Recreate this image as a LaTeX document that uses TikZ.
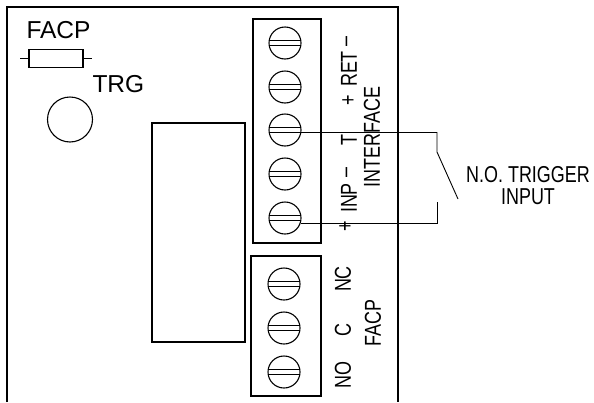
\documentclass[tikz,border=0pt]{standalone}
\usepackage{fontspec}
\setmainfont{Liberation Sans}
\newfontfamily\condf[FakeStretch=0.78]{Liberation Sans}
\usetikzlibrary{calc}
\begin{document}
\begin{tikzpicture}[x=1pt,y=-1pt,line width=1pt,
  screw/.style={circle,draw,minimum size=32pt,inner sep=0pt,line width=1.1pt},
  rlbl/.style={font=\condf\fontsize{23}{24}\selectfont,inner sep=0pt,rotate=90},
  nlbl/.style={font=\fontsize{24.5}{26}\selectfont,inner sep=0pt},
  clbl/.style={font=\condf\fontsize{23}{24}\selectfont,inner sep=0pt,align=center},
  box/.style={draw,line width=1.2pt}]
\useasboundingbox (0,0) rectangle (594,402);
% board
\draw[line width=2pt] (7,402) -- (7,7) -- (398,7) -- (398,402);
% resistor and label
\node[nlbl,anchor=south west] (facp) at (26,39) {FACP};
\node[box,minimum width=54pt,minimum height=18pt,inner sep=0pt] (res) at (56,58.5) {};
\coordinate (rl) at (20,58.5);
\coordinate (rr) at (92,58.5);
\draw (rl) -- (res.west) (res.east) -- (rr);
% TRG
\node[nlbl,anchor=south west] (trg) at (92,93) {TRG};
\node[circle,draw,minimum size=45pt,inner sep=0pt,line width=1.1pt] (led) at (70,119.5) {};
% relay
\node[box,minimum width=93pt,minimum height=219pt,inner sep=0pt] (relay) at (198.5,232.5) {};
% terminal blocks
\node[box,minimum width=68pt,minimum height=224pt,inner sep=0pt] (tbu) at (287,131) {};
\node[box,minimum width=70pt,minimum height=140pt,inner sep=0pt] (tbl) at (286,326) {};
% screws
\foreach \n/\xx/\yy in {s1/285/43,s2/285/87,s3/285/130,s4/285/174,s5/285/218,l1/284/284,l2/284/328,l3/284/372}{
  \node[screw] (\n) at (\xx,\yy) {};
  \draw ($(\n.center)+(-15.8,-2.5)$) -- ($(\n.center)+(15.8,-2.5)$);
  \draw ($(\n.center)+(-15.8,2.5)$) -- ($(\n.center)+(15.8,2.5)$);
}
% labels upper
\node[rlbl] (lm1) at (349,42) {–};
\node[rlbl] (lret) at (349,69) {RET};
\node[rlbl] (lp1) at (349,100) {+};
\node[rlbl] (lt) at (349,140) {T};
\node[rlbl] (lm2) at (349,173) {–};
\node[rlbl] (linp) at (349,198) {INP};
\node[rlbl] (lp2) at (346,226) {+};
\node[rlbl] (lif) at (372,137) {INTERFACE};
% labels lower
\node[rlbl] (lnc) at (343,279) {NC};
\node[rlbl] (lc) at (343,330) {C};
\node[rlbl] (lno) at (343,375) {NO};
\node[rlbl] (lfacp) at (373,323) {FACP};
% switch wiring
\coordinate (sw3) at ($(s3.center)+(15.8,2.5)$);
\coordinate (sw5) at ($(s5.center)+(15.8,5)$);
\coordinate (swb) at (437,152);
\coordinate (swc) at (458,199);
\coordinate (swd) at (437,202);
\draw[line width=0.9pt] (sw3) -| (swb) -- (swc);
\draw[line width=0.9pt] (sw5) -| (swd);
\node[clbl] (noti) at (528,186) {N.O. TRIGGER\\[-2pt]INPUT};
\end{tikzpicture}
\end{document}
